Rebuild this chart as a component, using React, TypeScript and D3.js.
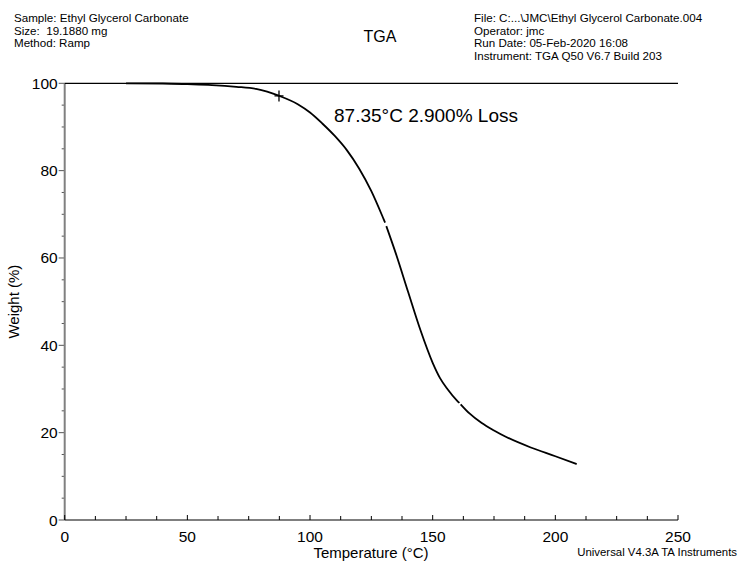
import React, { useRef, useEffect } from "react";
import * as d3 from "d3";

// TGA weight curve
const temps = [25, 40, 50, 60, 70, 78, 87.5, 95, 100, 105, 110, 115, 120, 125, 130, 130.6,
  131.1, 135, 140, 145, 150, 153, 156, 160, 160.9,
  161.4, 165, 170, 175, 180, 190, 200, 208.7];
const weights = [100.0, 99.95, 99.8, 99.6, 99.2, 98.7, 97.1, 95.2, 93.3, 90.8, 88.0, 84.7, 80.5, 75.3, 68.9, 68.1,
  67.3, 61.0, 52.2, 43.5, 36.0, 32.5, 30.0, 27.3, 26.8,
  26.5, 24.4, 22.2, 20.5, 19.0, 16.6, 14.6, 12.8];
// indices where the instrument trace has a small break
const breaks = [16, 25];

const xTicks = [0, 50, 100, 150, 200, 250];
const yTicks = [0, 20, 40, 60, 80, 100];

const headerLeft = ["Sample: Ethyl Glycerol Carbonate", "Size:  19.1880 mg", "Method: Ramp"];
const headerRight = [
  "File: C:...\\JMC\\Ethyl Glycerol Carbonate.004",
  "Operator: jmc",
  "Run Date: 05-Feb-2020 16:08",
  "Instrument: TGA Q50 V6.7 Build 203",
];

const marker = { temp: 87.35, weight: 97.1, label: "87.35°C 2.900% Loss" };

const App = () => {
  const svgRef = useRef<SVGSVGElement>(null);

  useEffect(() => {
    const width = 739;
    const height = 562;
    const margin = { top: 83.3, bottom: 42, left: 64.7, right: 61 };
    const font = "Arial, 'Liberation Sans', sans-serif";

    const svg = d3.select(svgRef.current);
    svg.selectAll("*").remove();
    svg.attr("width", width).attr("height", height).style("font-family", font);

    const x = d3.scaleLinear().domain([0, 250]).range([margin.left, width - margin.right]);
    const y = d3.scaleLinear().domain([0, 100]).range([height - margin.bottom, margin.top]);

    // header text
    svg.append("g")
      .selectAll("text")
      .data(headerLeft)
      .join("text")
      .attr("x", 14)
      .attr("y", (d, i) => 22 + i * 12.5)
      .style("font-size", "11.6px")
      .style("white-space", "pre")
      .text((d) => d);

    svg.append("g")
      .selectAll("text")
      .data(headerRight)
      .join("text")
      .attr("x", 474)
      .attr("y", (d, i) => 22 + i * 12.5)
      .style("font-size", "11.6px")
      .text((d) => d);

    svg.append("text")
      .attr("x", 380)
      .attr("y", 42)
      .attr("text-anchor", "middle")
      .style("font-size", "16px")
      .text("TGA");

    // y axis (grey) with ticks on the left
    const yMinor = d3.range(0, 101, 5);
    svg.append("g")
      .selectAll("line")
      .data(yMinor)
      .join("line")
      .attr("x1", (d) => margin.left - (d % 20 === 0 ? 6 : 3))
      .attr("x2", margin.left)
      .attr("y1", (d) => y(d))
      .attr("y2", (d) => y(d))
      .attr("stroke", "#555")
      .attr("stroke-width", 1);

    svg.append("line")
      .attr("x1", margin.left)
      .attr("x2", margin.left)
      .attr("y1", y(100))
      .attr("y2", y(0))
      .attr("stroke", "#808080")
      .attr("stroke-width", 2);

    svg.append("g")
      .selectAll("text")
      .data(yTicks)
      .join("text")
      .attr("x", margin.left - 7)
      .attr("y", (d) => y(d) + 5.5)
      .attr("text-anchor", "end")
      .style("font-size", "15.5px")
      .text((d) => d);

    // x axis with ticks pointing up
    const xMinor = d3.range(0, 251, 12.5);
    svg.append("g")
      .selectAll("line")
      .data(xMinor)
      .join("line")
      .attr("x1", (d) => x(d))
      .attr("x2", (d) => x(d))
      .attr("y1", y(0))
      .attr("y2", (d) => y(0) - (d % 50 === 0 ? 5 : 4))
      .attr("stroke", "#000")
      .attr("stroke-width", 1);

    svg.append("line")
      .attr("x1", margin.left)
      .attr("x2", x(250))
      .attr("y1", y(0))
      .attr("y2", y(0))
      .attr("stroke", "#000")
      .attr("stroke-width", 1.2);

    svg.append("g")
      .selectAll("text")
      .data(xTicks)
      .join("text")
      .attr("x", (d) => x(d))
      .attr("y", y(0) + 22)
      .attr("text-anchor", "middle")
      .style("font-size", "15.5px")
      .text((d) => d);

    // top line at 100 %
    svg.append("line")
      .attr("x1", margin.left)
      .attr("x2", x(250))
      .attr("y1", y(100))
      .attr("y2", y(100))
      .attr("stroke", "#000")
      .attr("stroke-width", 1.2);

    // axis titles
    svg.append("text")
      .attr("x", 371)
      .attr("y", 558)
      .attr("text-anchor", "middle")
      .style("font-size", "15px")
      .text("Temperature (°C)");

    svg.append("text")
      .attr("transform", `translate(19, ${y(50)}) rotate(-90)`)
      .attr("text-anchor", "middle")
      .style("font-size", "15px")
      .text("Weight (%)");

    svg.append("text")
      .attr("x", 737)
      .attr("y", 556)
      .attr("text-anchor", "end")
      .style("font-size", "11.4px")
      .text("Universal V4.3A TA Instruments");

    // weight curve, split at the trace breaks
    const pts = temps.map((t, i) => [t, weights[i]] as [number, number]);
    const cuts = [0, ...breaks, pts.length];
    const line = d3.line<[number, number]>()
      .x((d) => x(d[0]))
      .y((d) => y(d[1]))
      .curve(d3.curveMonotoneX);

    svg.append("g")
      .selectAll("path")
      .data(d3.range(cuts.length - 1).map((k) => pts.slice(cuts[k], cuts[k + 1])))
      .join("path")
      .attr("d", (d) => line(d))
      .attr("fill", "none")
      .attr("stroke", "#000")
      .attr("stroke-width", 1.8);

    // onset marker
    const mx = x(marker.temp);
    const my = y(marker.weight);
    svg.append("path")
      .attr("d", `M${mx - 4.5},${my}H${mx + 4.5}M${mx},${my - 5.5}V${my + 5.5}`)
      .attr("stroke", "#000")
      .attr("stroke-width", 1.3);

    svg.append("text")
      .attr("x", 334)
      .attr("y", 122)
      .style("font-size", "19px")
      .text(marker.label);
  }, []);

  return (
    <div style={{ position: "absolute", left: 0, top: 0 }}>
      <svg ref={svgRef} style={{ display: "block", background: "#fff" }}></svg>
    </div>
  );
};

export default App;
